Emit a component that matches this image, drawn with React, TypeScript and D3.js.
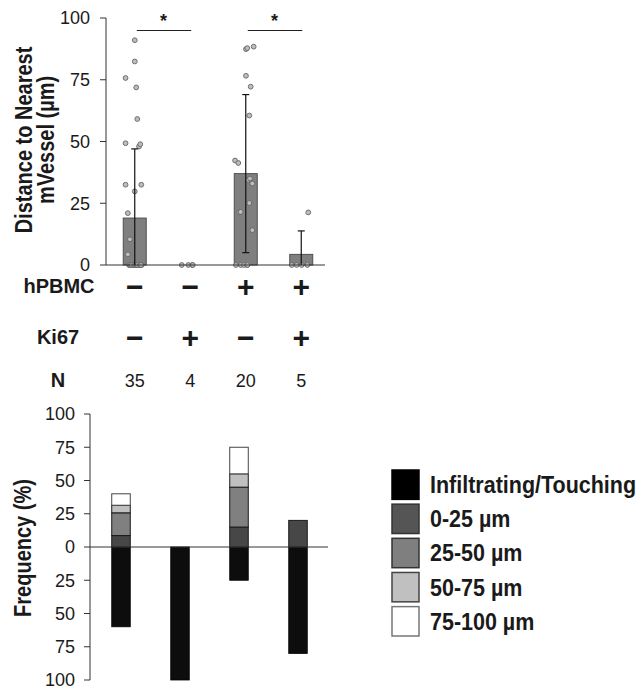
import React from "react";
import * as d3 from "d3";

// ---------- DATA ----------
const groups = ["G1", "G2", "G3", "G4"];
const hPBMCRow = ["−", "−", "+", "+"];
const ki67Row = ["−", "+", "−", "+"];
const nCounts = ["35", "4", "20", "5"];

const meanDistance = [19, 0, 37, 4.3];
const sdDistance = [28, 0, 32, 9.5];
const topTicks = [0, 25, 50, 75, 100];

// individual measurements (µm) and horizontal jitter (fraction of half bar width)
const g1Values = [91, 82.4, 75.7, 71.9, 59.1, 49.3, 48, 48.9, 32.5, 32.5, 29.8, 21, 10.4, 4.3,
  0, 0, 0, 0, 0, 0, 0, 0, 0, 0, 0, 0, 0, 0, 0, 0, 0, 0, 0, 0, 0];
const g1Jitter = [0, 0, -0.8, 0.13, 0.22, -0.8, 0.37, 0.48, -0.8, 0.57, 0, -0.6, -0.42, -0.6,
  -0.5, -0.4, -0.3, -0.2, -0.1, 0, 0.1, 0.2, 0.3, 0.4, 0.5, 0.6, -0.45, -0.35, -0.25, -0.05, 0.05, 0.15, 0.25, 0.45, 0.55];
const g2Values = [0, 0, 0, 0];
const g2Jitter = [-0.74, -0.17, 0.18, 0.22];
const g3Values = [87.4, 87.8, 88.4, 76.6, 72.2, 60.5, 42.3, 41.3, 34.5, 35, 33, 25.1, 21.3, 21.5, 14.1, 0, 0, 0, 0, 0];
const g3Jitter = [0.02, 0.13, 0.69, 0.02, 0.43, 0.31, -0.93, -0.65, 0.22, 0.37, 0.57, 0.31, -0.56, -0.44, 0.57, -0.85, -0.44, -0.15, 0.13, 0.15];
const g4Values = [21.3, 0, 0, 0, 0];
const g4Jitter = [0.61, -0.83, -0.4, 0.04, 0.53];

const dotValues = [g1Values, g2Values, g3Values, g4Values];
const dotJitter = [g1Jitter, g2Jitter, g3Jitter, g4Jitter];

// significance comparisons (group index pairs)
const sigPairs = [[0, 1], [2, 3]];

// frequency (%) distributions
const freqKeys = ["Infiltrating/Touching", "0-25 µm", "25-50 µm", "50-75 µm", "75-100 µm"];
const freqInfiltrating = [60, 100, 25, 80];
const freq0to25 = [8.6, 0, 15, 20];
const freq25to50 = [17.1, 0, 30, 0];
const freq50to75 = [5.7, 0, 10, 0];
const freq75to100 = [8.6, 0, 20, 0];
const bottomTicks = [-100, -75, -50, -25, 0, 25, 50, 75, 100];

const freqColors = ["#0d0d0d", "#474747", "#808080", "#c0c0c0", "#ffffff"];
const legendColors = ["#000000", "#555555", "#7f7f7f", "#c0c0c0", "#ffffff"];
const legendStrokes = ["#000000", "#333333", "#333333", "#444444", "#777777"];

const FONT = "'Liberation Sans', Arial, Helvetica, sans-serif";
const TXT = "#1a1a1a";

export default function App() {
  // ---------- TOP CHART ----------
  const xTop = d3.scaleBand<string>().domain(groups).range([107, 329]).paddingInner(0.586).paddingOuter(0.293);
  const yTop = d3.scaleLinear().domain([0, 100]).range([265, 18]);
  const cx = (i: number) => (xTop(groups[i]) as number) + xTop.bandwidth() / 2;
  const half = xTop.bandwidth() / 2;

  // ---------- BOTTOM CHART ----------
  const xBot = d3.scaleBand<string>().domain(groups).range([91.5, 327.5]).paddingInner(0.686).paddingOuter(0.343);
  const yBot = d3.scaleLinear().domain([-100, 100]).range([680, 414]);

  const stackRows = groups.map((g, i) => ({
    g,
    "0-25 µm": freq0to25[i],
    "25-50 µm": freq25to50[i],
    "50-75 µm": freq50to75[i],
    "75-100 µm": freq75to100[i],
  }));
  const posKeys = freqKeys.slice(1);
  const stacked = d3.stack<any>().keys(posKeys)(stackRows);

  const legendX = 392;
  const legendY = d3.scaleBand<string>().domain(freqKeys).range([470, 636]).paddingInner(0.14);

  return (
    <svg width={642} height={693} style={{ position: "absolute", left: 0, top: 0, background: "#fff" }}
      fontFamily={FONT}>
      {/* ===== Top chart ===== */}
      <g>
        {/* y title */}
        <text transform={`translate(32,140) scale(1.15,1) rotate(-90)`} textAnchor="middle" fontSize={20} fontWeight="bold" fill={TXT}>
          Distance to Nearest
        </text>
        <text transform={`translate(53.5,140) scale(1.15,1) rotate(-90)`} textAnchor="middle" fontSize={20} fontWeight="bold" fill={TXT}>
          mVessel (µm)
        </text>

        {/* bars */}
        {groups.map((g, i) => (
          <rect key={g} x={xTop(g)} y={yTop(meanDistance[i])} width={xTop.bandwidth()}
            height={yTop(0) - yTop(meanDistance[i])} fill="#7f7f7f" stroke="#505050" strokeWidth={1} />
        ))}

        {/* dots */}
        {dotValues.map((vals, gi) =>
          vals.map((v, k) => (
            <circle key={`${gi}-${k}`} cx={cx(gi) + dotJitter[gi][k] * half} cy={yTop(v)} r={2.4}
              fill="#bdbdbd" stroke="#646464" strokeWidth={0.9} />
          ))
        )}

        {/* error bars */}
        {groups.map((g, i) => {
          if (sdDistance[i] <= 0) return null;
          const hi = meanDistance[i] + sdDistance[i];
          const lo = Math.max(0, meanDistance[i] - sdDistance[i]);
          return (
            <g key={g} stroke="#111" strokeWidth={1.2}>
              <line x1={cx(i)} x2={cx(i)} y1={yTop(hi)} y2={yTop(lo)} />
              <line x1={cx(i) - 3.5} x2={cx(i) + 3.5} y1={yTop(hi)} y2={yTop(hi)} />
              {lo > 0 && <line x1={cx(i) - 3.5} x2={cx(i) + 3.5} y1={yTop(lo)} y2={yTop(lo)} />}
            </g>
          );
        })}

        {/* axes */}
        <line x1={106} x2={106} y1={yTop(100)} y2={yTop(0)} stroke="#333" strokeWidth={1} />
        <line x1={106} x2={325} y1={yTop(0)} y2={yTop(0)} stroke="#333" strokeWidth={1} />
        {topTicks.map((t) => (
          <g key={t}>
            <line x1={100} x2={106} y1={yTop(t)} y2={yTop(t)} stroke="#333" strokeWidth={1} />
            <text x={90} y={yTop(t)} dy="0.35em" textAnchor="end" fontSize={18} fill={TXT}>{t}</text>
          </g>
        ))}

        {/* significance */}
        {sigPairs.map(([a, b], k) => (
          <g key={k}>
            <line x1={cx(a) + 2} x2={cx(b) + 1} y1={30.5} y2={30.5} stroke="#222" strokeWidth={1} />
            <text x={(cx(a) + cx(b)) / 2 + 1} y={27} textAnchor="middle" fontSize={18} fontWeight="bold" fill={TXT}>*</text>
          </g>
        ))}
      </g>

      {/* ===== condition rows ===== */}
      <g fill={TXT}>
        <text x={59} y={293} textAnchor="middle" fontSize={20} fontWeight="bold">hPBMC</text>
        <text x={58} y={344} textAnchor="middle" fontSize={20} fontWeight="bold">Ki67</text>
        <text x={58} y={386.5} textAnchor="middle" fontSize={20} fontWeight="bold">N</text>
        {groups.map((g, i) => (
          <g key={g}>
            <text x={cx(i)} y={296.5} textAnchor="middle" fontSize={30} fontWeight="bold">{hPBMCRow[i]}</text>
            <text x={cx(i)} y={347.5} textAnchor="middle" fontSize={30} fontWeight="bold">{ki67Row[i]}</text>
            <text x={cx(i)} y={386.5} textAnchor="middle" fontSize={18}>{nCounts[i]}</text>
          </g>
        ))}
      </g>

      {/* ===== Bottom chart ===== */}
      <g>
        <text transform={`translate(31,548) scale(1.15,1) rotate(-90)`} textAnchor="middle" fontSize={20} fontWeight="bold" fill={TXT}>
          Frequency (%)
        </text>

        {/* negative (infiltrating) bars */}
        {groups.map((g, i) => (
          <rect key={g} x={xBot(g)} y={yBot(0)} width={xBot.bandwidth()}
            height={yBot(-freqInfiltrating[i]) - yBot(0)} fill={freqColors[0]} stroke="#000" strokeWidth={0.8} />
        ))}

        {/* positive stacked bars */}
        {stacked.map((layer, li) =>
          layer.map((d, i) => {
            const h = yBot(d[0]) - yBot(d[1]);
            if (h <= 0) return null;
            return (
              <rect key={`${li}-${i}`} x={xBot(groups[i])} y={yBot(d[1])} width={xBot.bandwidth()} height={h}
                fill={freqColors[li + 1]} stroke={li === 3 ? "#444" : "#1a1a1a"} strokeWidth={1} />
            );
          })
        )}

        {/* axes */}
        <line x1={90} x2={90} y1={yBot(100)} y2={yBot(-100)} stroke="#333" strokeWidth={1} />
        <line x1={90} x2={328} y1={yBot(0)} y2={yBot(0)} stroke="#333" strokeWidth={1} />
        {bottomTicks.map((t) => (
          <g key={t}>
            <line x1={84} x2={90} y1={yBot(t)} y2={yBot(t)} stroke="#333" strokeWidth={1} />
            <text x={75} y={yBot(t)} dy="0.35em" textAnchor="end" fontSize={18} fill={TXT}>{Math.abs(t)}</text>
          </g>
        ))}
      </g>

      {/* ===== Legend ===== */}
      <g>
        {freqKeys.map((k, i) => (
          <g key={k}>
            <rect x={legendX} y={legendY(k)} width={27} height={legendY.bandwidth()} fill={legendColors[i]}
              stroke={legendStrokes[i]} strokeWidth={1.5} />
            <text transform={`translate(430,${(legendY(k) as number) + legendY.bandwidth() / 2}) scale(1,1.08)`}
              dy="0.36em" fontSize={21.5} fontWeight="bold" fill={TXT}>{k}</text>
          </g>
        ))}
      </g>
    </svg>
  );
}
